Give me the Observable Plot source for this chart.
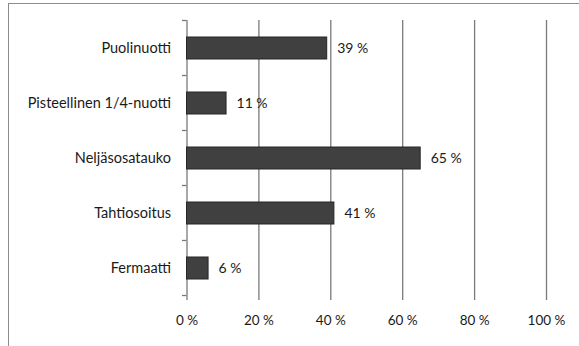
<!DOCTYPE html>
<html>
<head>
<meta charset="utf-8">
<script src="https://cdn.jsdelivr.net/npm/d3@7"></script>
<script src="https://cdn.jsdelivr.net/npm/@observablehq/plot@0.6"></script>
<style>
  html, body { margin: 0; padding: 0; background: #fff; }
  #wrap { position: relative; width: 579px; height: 346px; overflow: hidden; }
  #border { position: absolute; left: 8px; top: 3px; width: 700px; height: 500px;
            border-left: 1.5px solid #8c8c8c; border-top: 1.5px solid #8c8c8c; }
  #chart { position: absolute; left: 0; top: 0; }
  svg { font-family: Lato, "Open Sans", sans-serif; }
</style>
</head>
<body>
<div id="wrap"><div id="border"></div><div id="chart"></div></div>
<script>
// Share of answers per notation symbol (percent)
const categories = ["Puolinuotti", "Pisteellinen 1/4-nuotti", "Neljäsosatauko", "Tahtiosoitus", "Fermaatti"];
const values = [39, 11, 65, 41, 6];
const xTicks = [0, 20, 40, 60, 80, 100];

const data = categories.map((c, i) => ({category: c, value: values[i]}));

const plot = Plot.plot({
  width: 579,
  height: 346,
  marginLeft: 186.5,
  marginRight: 33,
  marginTop: 20,
  marginBottom: 50,
  style: {fontSize: "13px", color: "#1a1a1a", background: "transparent"},
  x: {domain: [0, 100], ticks: xTicks, tickFormat: d => `${d} %`, label: null},
  y: {domain: categories, paddingInner: 0.6, paddingOuter: 0.3, label: null},
  marks: [
    Plot.gridX(xTicks.filter(d => d > 0), {stroke: "#7a7a7a", strokeOpacity: 1, strokeWidth: 1.3}),
    Plot.ruleX([0], {stroke: "#7a7a7a", strokeWidth: 1.3}),
    Plot.ruleY([0], {frameAnchor: "bottom", stroke: "#7a7a7a", strokeWidth: 1.3}),
    Plot.axisX({ticks: xTicks, tickSize: 4, tickPadding: 15, stroke: "#7a7a7a", strokeWidth: 1.3,
                fill: "#1a1a1a", tickFormat: d => `${d} %`, fontSize: 13.5}),
    Plot.axisY({tickSize: 0, tickPadding: 16, fill: "#1a1a1a", fontSize: 14.5}),
    Plot.barX(data, {x: "value", y: "category", fill: "#404040", stroke: "#262626", strokeWidth: 1}),
    Plot.text(data, {x: "value", y: "category", text: d => `${d.value} %`, textAnchor: "start",
                     dx: 10, fill: "#1a1a1a", fontSize: 14})
  ]
});

// Tick marks at the category band boundaries on the left axis
const ys = plot.scale("y");
const half = (ys.step - ys.bandwidth) / 2;
const bounds = categories.map(c => ys.apply(c) - half);
bounds.push(ys.apply(categories[categories.length - 1]) + ys.bandwidth + half);
const x0 = plot.scale("x").apply(0);
d3.select(plot).append("g")
  .selectAll("line").data(bounds).join("line")
  .attr("x1", x0 - 4.5).attr("x2", x0)
  .attr("y1", d => d).attr("y2", d => d)
  .attr("stroke", "#7a7a7a").attr("stroke-width", 1.3);

document.getElementById("chart").appendChild(plot);
</script>
</body>
</html>
